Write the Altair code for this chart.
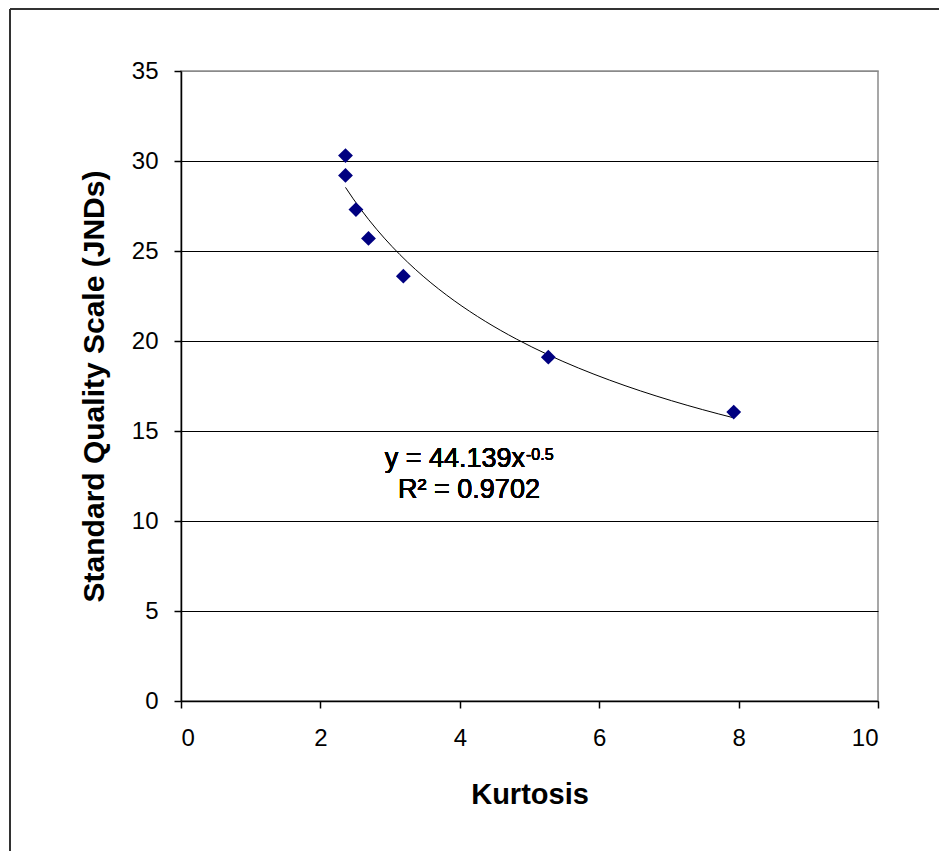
import altair as alt
import pandas as pd

kurtosis = [2.36, 2.36, 2.51, 2.69, 3.19, 5.27, 7.93]
quality = [30.3, 29.2, 27.3, 25.7, 23.6, 19.1, 16.05]
y_ticks = [0, 5, 10, 15, 20, 25, 30, 35]
x_ticks = [0, 2, 4, 6, 8, 10]
eq_main = "y = 44.139x"
eq_sup = "-0.5"
r2_text = "R² = 0.9702"

df = pd.DataFrame({"k": kurtosis, "q": quality})
FONT = "Liberation Sans"

x_enc = alt.X("k:Q", scale=alt.Scale(domain=[0, 10], nice=False),
              axis=alt.Axis(values=x_ticks, format="d", title="Kurtosis", grid=False,
                            tickSize=7, tickColor="black", domainColor="black",
                            domainWidth=1.5, tickWidth=1.5, labelPadding=18,
                            labelFontSize=24, titleFontSize=29, titleFontWeight="bold",
                            titlePadding=30, labelColor="black", titleColor="black",
                            labelFont=FONT, titleFont=FONT))
y_enc = alt.Y("q:Q", scale=alt.Scale(domain=[0, 35], nice=False),
              axis=alt.Axis(values=y_ticks, format="d", title="Standard Quality Scale (JNDs)",
                            grid=True,
                            gridColor=alt.condition("datum.value == 35", alt.value("#8a8a8a"), alt.value("black")),
                            gridWidth=1.2,
                            tickSize=7, tickColor="black", domainColor="black",
                            domainWidth=1.5, tickWidth=1.5, labelPadding=16,
                            labelFontSize=24, titleFontSize=30, titleFontWeight="bold",
                            titlePadding=22, labelColor="black", titleColor="black",
                            labelFont=FONT, titleFont=FONT))

points = alt.Chart(df).mark_point(shape="diamond", filled=True, color="#000080",
                                  size=220, opacity=1).encode(x=x_enc, y=y_enc)

trend = alt.Chart(df).transform_regression("k", "q", method="pow").mark_line(
    color="black", strokeWidth=1).encode(x="k:Q", y="q:Q")

ann1 = alt.Chart(df).mark_text(text=eq_main, align="right", baseline="alphabetic",
                                fontSize=27, font=FONT, color="black").encode(
    x=alt.value(344), y=alt.value(396))
ann_sup = alt.Chart(df).mark_text(text=eq_sup, align="left", baseline="alphabetic",
                                   fontSize=16, font=FONT, color="black").encode(
    x=alt.value(345), y=alt.value(389))
ann2 = alt.Chart(df).mark_text(text=r2_text, align="center", baseline="alphabetic",
                                fontSize=27, font=FONT, color="black").encode(
    x=alt.value(288), y=alt.value(427))

border_left = alt.Chart(df).mark_rule(color="#333333", strokeWidth=1.5).encode(
    x=alt.value(-171), y=alt.value(-62), y2=alt.value(780))
border_top = alt.Chart(df).mark_rule(color="#333333", strokeWidth=1.5).encode(
    x=alt.value(-171), x2=alt.value(758), y=alt.value(-62))

chart = alt.layer(trend, points, ann1, ann_sup, ann2, border_left, border_top).properties(
    width=697, height=630,
    autosize=alt.AutoSizeParams(type="none"),
    padding={"left": 173, "top": 63, "right": 62, "bottom": 150},
    background="white",
).configure_view(stroke="#8a8a8a", strokeWidth=1.5)

chart.save("out.html", embed_options={"renderer": "svg", "actions": False})
